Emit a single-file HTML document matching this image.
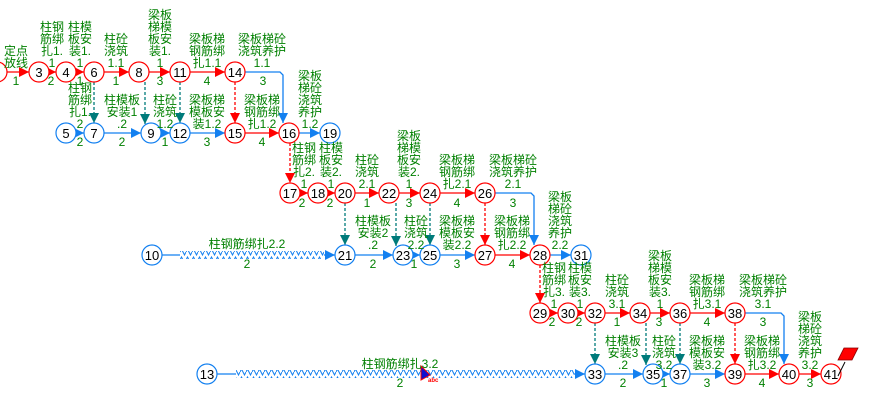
<!DOCTYPE html>
<html><head><meta charset="utf-8"><style>
html,body{margin:0;padding:0;background:#fff;}
svg{display:block;}
.n{font:13px "Liberation Sans",sans-serif;fill:#000;text-anchor:middle;}
.l{font:12px "Liberation Sans","Noto Sans CJK SC",sans-serif;fill:#008000;text-anchor:middle;}
</style></head><body>
<svg width="888" height="415" viewBox="0 0 888 415" xmlns="http://www.w3.org/2000/svg">
<defs>
<marker id="ar" markerWidth="10" markerHeight="10" refX="10" refY="5" orient="auto" markerUnits="userSpaceOnUse"><path d="M0,0 L10,5 L0,10z" fill="#f00"/></marker>
<marker id="ab" markerWidth="10" markerHeight="10" refX="10" refY="5" orient="auto" markerUnits="userSpaceOnUse"><path d="M0,0 L10,5 L0,10z" fill="#1380f0"/></marker>
<marker id="at" markerWidth="10" markerHeight="10" refX="10" refY="5" orient="auto" markerUnits="userSpaceOnUse"><path d="M0,0 L10,5 L0,10z" fill="#007b7b"/></marker>
<pattern id="zz" x="0" y="0" width="6" height="8" patternUnits="userSpaceOnUse"><path d="M0,4 L1.5,1 L4.5,7 L6,4" fill="none" stroke="#1380f0" stroke-width="1"/></pattern>
</defs>
<g fill="none" stroke-width="1.3">
<g stroke="#f00" marker-end="url(#ar)">
<line x1="7" y1="72" x2="29" y2="72"/><line x1="49" y1="72" x2="56" y2="72"/><line x1="76" y1="72" x2="84" y2="72"/>
<line x1="104" y1="72" x2="129" y2="72"/><line x1="149" y1="72" x2="170" y2="72"/><line x1="190" y1="72" x2="225" y2="72"/>
<line x1="245" y1="133" x2="279" y2="133"/>
<line x1="300" y1="193" x2="308" y2="193"/><line x1="328" y1="193" x2="335" y2="193"/><line x1="355" y1="193" x2="379" y2="193"/>
<line x1="399" y1="193" x2="420" y2="193"/><line x1="440" y1="193" x2="475" y2="193"/>
<line x1="495" y1="255" x2="530" y2="255"/>
<line x1="550" y1="313" x2="558" y2="313"/><line x1="578" y1="313" x2="585" y2="313"/><line x1="605" y1="313" x2="630" y2="313"/>
<line x1="650" y1="313" x2="670" y2="313"/><line x1="690" y1="313" x2="725" y2="313"/>
<line x1="745" y1="374" x2="779" y2="374"/><line x1="799" y1="374" x2="821" y2="374"/>
</g>
<g stroke="#f00" stroke-dasharray="3,2" marker-end="url(#ar)">
<line x1="235" y1="82" x2="235" y2="123"/><line x1="290" y1="143" x2="290" y2="183"/>
<line x1="485" y1="203" x2="485" y2="245"/><line x1="540" y1="265" x2="540" y2="303"/><line x1="735" y1="323" x2="735" y2="364"/>
</g>
<g stroke="#007b7b" stroke-dasharray="3,2" marker-end="url(#at)">
<line x1="94" y1="82" x2="94" y2="123"/><line x1="145" y1="82" x2="145" y2="124"/><line x1="180" y1="82" x2="180" y2="123"/>
<line x1="345" y1="203" x2="345" y2="245"/><line x1="396" y1="203" x2="396" y2="246"/><line x1="430" y1="203" x2="430" y2="245"/>
<line x1="595" y1="323" x2="595" y2="364"/><line x1="646" y1="323" x2="646" y2="365"/><line x1="680" y1="323" x2="680" y2="364"/>
</g>
<g stroke="#1380f0" marker-end="url(#ab)">
<line x1="76" y1="133" x2="84" y2="133"/><line x1="104" y1="133" x2="141" y2="133"/><line x1="161" y1="133" x2="170" y2="133"/>
<line x1="190" y1="133" x2="225" y2="133"/><line x1="299" y1="133" x2="320" y2="133"/>
<path d="M245,72 H280 l3,3 V123"/>
<path d="M495,193 H531 l3,3 V245"/>
<path d="M745,313 H781 l3,3 V364"/>
<line x1="355" y1="255" x2="393" y2="255"/><line x1="413" y1="255" x2="420" y2="255"/><line x1="440" y1="255" x2="475" y2="255"/>
<line x1="550" y1="255" x2="571" y2="255"/>
<line x1="605" y1="374" x2="643" y2="374"/><line x1="663" y1="374" x2="670" y2="374"/><line x1="690" y1="374" x2="725" y2="374"/>
<line x1="324" y1="255" x2="335" y2="255"/><line x1="574" y1="374" x2="585" y2="374"/>
</g>
<g stroke="#1380f0"><line x1="162" y1="255" x2="180" y2="255"/><line x1="217" y1="374" x2="236" y2="374"/></g>
</g>
<rect x="180" y="251" width="144" height="8" fill="url(#zz)"/>
<rect x="236" y="370" width="338" height="8" fill="url(#zz)"/>
<g stroke-width="1.2" fill="#fff">
<g stroke="#f00">
<circle cx="-3" cy="72" r="10"/><circle cx="39" cy="72" r="10"/><circle cx="66" cy="72" r="10"/><circle cx="94" cy="72" r="10"/>
<circle cx="139" cy="72" r="10"/><circle cx="180" cy="72" r="10"/><circle cx="235" cy="72" r="10"/>
<circle cx="235" cy="133" r="10"/><circle cx="289" cy="133" r="10"/>
<circle cx="290" cy="193" r="10"/><circle cx="318" cy="193" r="10"/><circle cx="345" cy="193" r="10"/><circle cx="389" cy="193" r="10"/>
<circle cx="430" cy="193" r="10"/><circle cx="485" cy="193" r="10"/>
<circle cx="485" cy="255" r="10"/><circle cx="540" cy="255" r="10"/>
<circle cx="540" cy="313" r="10"/><circle cx="568" cy="313" r="10"/><circle cx="595" cy="313" r="10"/><circle cx="640" cy="313" r="10"/>
<circle cx="680" cy="313" r="10"/><circle cx="735" cy="313" r="10"/>
<circle cx="735" cy="374" r="10"/><circle cx="789" cy="374" r="10"/><circle cx="831" cy="374" r="10"/>
</g>
<g stroke="#1380f0">
<circle cx="66" cy="133" r="10"/><circle cx="94" cy="133" r="10"/><circle cx="151" cy="133" r="10"/><circle cx="180" cy="133" r="10"/>
<circle cx="330" cy="133" r="10"/>
<circle cx="152" cy="255" r="10"/><circle cx="345" cy="255" r="10"/><circle cx="403" cy="255" r="10"/><circle cx="430" cy="255" r="10"/>
<circle cx="581" cy="255" r="10"/>
<circle cx="207" cy="374" r="10"/><circle cx="595" cy="374" r="10"/><circle cx="653" cy="374" r="10"/><circle cx="680" cy="374" r="10"/>
</g>
</g>
<g class="n">
<text x="39" y="77">3</text><text x="66" y="77">4</text><text x="94" y="77">6</text><text x="139" y="77">8</text><text x="180" y="77">11</text><text x="235" y="77">14</text>
<text x="66" y="138">5</text><text x="94" y="138">7</text><text x="151" y="138">9</text><text x="180" y="138">12</text><text x="235" y="138">15</text><text x="289" y="138">16</text><text x="330" y="138">19</text>
<text x="290" y="198">17</text><text x="318" y="198">18</text><text x="345" y="198">20</text><text x="389" y="198">22</text><text x="430" y="198">24</text><text x="485" y="198">26</text>
<text x="152" y="260">10</text><text x="345" y="260">21</text><text x="403" y="260">23</text><text x="430" y="260">25</text><text x="485" y="260">27</text><text x="540" y="260">28</text><text x="581" y="260">31</text>
<text x="540" y="318">29</text><text x="568" y="318">30</text><text x="595" y="318">32</text><text x="640" y="318">34</text><text x="680" y="318">36</text><text x="735" y="318">38</text>
<text x="207" y="379">13</text><text x="595" y="379">33</text><text x="653" y="379">35</text><text x="680" y="379">37</text><text x="735" y="379">39</text><text x="789" y="379">40</text><text x="831" y="379">41</text>
</g>
<polygon points="844,348 858,348 852,360 838,360" fill="#f00" stroke="#800" stroke-width="0.8"/>
<line x1="845" y1="362" x2="838" y2="376" stroke="#000" stroke-width="1"/>
<polygon points="421,366 421,380 430,375" fill="#1010d0" stroke="#f00" stroke-width="1"/>
<text x="428" y="382" style="font:bold 6px 'Liberation Sans',sans-serif;fill:#f00">abc</text>
<g class="l">
<text x="16" y="55">定点<tspan x="16" dy="12">放线</tspan></text>
<text x="52" y="31">柱钢<tspan x="52" dy="12">筋绑</tspan><tspan x="52" dy="12">扎1.</tspan><tspan x="52" dy="12">1</tspan></text>
<text x="80" y="31">柱模<tspan x="80" dy="12">板安</tspan><tspan x="80" dy="12">装1.</tspan><tspan x="80" dy="12">1</tspan></text>
<text x="116" y="43">柱砼<tspan x="116" dy="12">浇筑</tspan><tspan x="116" dy="12">1.1</tspan></text>
<text x="160" y="19">梁板<tspan x="160" dy="12">梯模</tspan><tspan x="160" dy="12">板安</tspan><tspan x="160" dy="12">装1.</tspan><tspan x="160" dy="12">1</tspan></text>
<text x="207" y="43">梁板梯<tspan x="207" dy="12">钢筋绑</tspan><tspan x="207" dy="12">扎1.1</tspan></text>
<text x="262" y="43">梁板梯砼<tspan x="262" dy="12">浇筑养护</tspan><tspan x="262" dy="12">1.1</tspan></text>
<text x="16" y="85">1</text><text x="51" y="85">2</text><text x="80" y="85">1</text><text x="116" y="85">1</text><text x="160" y="85">3</text><text x="207" y="85">4</text><text x="263" y="85">3</text>
<text x="80" y="92">柱钢<tspan x="80" dy="12">筋绑</tspan><tspan x="80" dy="12">扎1.</tspan><tspan x="80" dy="12">2</tspan></text>
<text x="122" y="104">柱模板<tspan x="122" dy="12">安装1</tspan><tspan x="122" dy="12">.2</tspan></text>
<text x="165" y="104">柱砼<tspan x="165" dy="12">浇筑</tspan><tspan x="165" dy="12">1.2</tspan></text>
<text x="207" y="104">梁板梯<tspan x="207" dy="12">模板安</tspan><tspan x="207" dy="12">装1.2</tspan></text>
<text x="262" y="104">梁板梯<tspan x="262" dy="12">钢筋绑</tspan><tspan x="262" dy="12">扎1.2</tspan></text>
<text x="310" y="80">梁板<tspan x="310" dy="12">梯砼</tspan><tspan x="310" dy="12">浇筑</tspan><tspan x="310" dy="12">养护</tspan><tspan x="310" dy="12">1.2</tspan></text>
<text x="80" y="146">2</text><text x="122" y="146">2</text><text x="165" y="146">1</text><text x="207" y="146">3</text><text x="262" y="146">4</text>
<text x="304" y="152">柱钢<tspan x="304" dy="12">筋绑</tspan><tspan x="304" dy="12">扎2.</tspan><tspan x="304" dy="12">1</tspan></text>
<text x="331" y="152">柱模<tspan x="331" dy="12">板安</tspan><tspan x="331" dy="12">装2.</tspan><tspan x="331" dy="12">1</tspan></text>
<text x="367" y="164">柱砼<tspan x="367" dy="12">浇筑</tspan><tspan x="367" dy="12">2.1</tspan></text>
<text x="409" y="140">梁板<tspan x="409" dy="12">梯模</tspan><tspan x="409" dy="12">板安</tspan><tspan x="409" dy="12">装2.</tspan><tspan x="409" dy="12">1</tspan></text>
<text x="457" y="164">梁板梯<tspan x="457" dy="12">钢筋绑</tspan><tspan x="457" dy="12">扎2.1</tspan></text>
<text x="513" y="164">梁板梯砼<tspan x="513" dy="12">浇筑养护</tspan><tspan x="513" dy="12">2.1</tspan></text>
<text x="302" y="207">2</text><text x="330" y="207">2</text><text x="367" y="207">1</text><text x="409" y="207">3</text><text x="457" y="207">4</text><text x="513" y="207">3</text>
<text x="247" y="248">柱钢筋绑扎2.2</text>
<text x="373" y="225">柱模板<tspan x="373" dy="12">安装2</tspan><tspan x="373" dy="12">.2</tspan></text>
<text x="416" y="225">柱砼<tspan x="416" dy="12">浇筑</tspan><tspan x="416" dy="12">2.2</tspan></text>
<text x="457" y="225">梁板梯<tspan x="457" dy="12">模板安</tspan><tspan x="457" dy="12">装2.2</tspan></text>
<text x="512" y="225">梁板梯<tspan x="512" dy="12">钢筋绑</tspan><tspan x="512" dy="12">扎2.2</tspan></text>
<text x="560" y="201">梁板<tspan x="560" dy="12">梯砼</tspan><tspan x="560" dy="12">浇筑</tspan><tspan x="560" dy="12">养护</tspan><tspan x="560" dy="12">2.2</tspan></text>
<text x="247" y="268">2</text><text x="373" y="268">2</text><text x="414" y="268">1</text><text x="457" y="268">3</text><text x="512" y="268">4</text>
<text x="554" y="272">柱钢<tspan x="554" dy="12">筋绑</tspan><tspan x="554" dy="12">扎3.</tspan><tspan x="554" dy="12">1</tspan></text>
<text x="580" y="272">柱模<tspan x="580" dy="12">板安</tspan><tspan x="580" dy="12">装3.</tspan><tspan x="580" dy="12">1</tspan></text>
<text x="617" y="284">柱砼<tspan x="617" dy="12">浇筑</tspan><tspan x="617" dy="12">3.1</tspan></text>
<text x="660" y="260">梁板<tspan x="660" dy="12">梯模</tspan><tspan x="660" dy="12">板安</tspan><tspan x="660" dy="12">装3.</tspan><tspan x="660" dy="12">1</tspan></text>
<text x="707" y="284">梁板梯<tspan x="707" dy="12">钢筋绑</tspan><tspan x="707" dy="12">扎3.1</tspan></text>
<text x="763" y="284">梁板梯砼<tspan x="763" dy="12">浇筑养护</tspan><tspan x="763" dy="12">3.1</tspan></text>
<text x="552" y="326">2</text><text x="579" y="326">2</text><text x="617" y="326">1</text><text x="659" y="326">3</text><text x="707" y="326">4</text><text x="763" y="326">3</text>
<text x="400" y="368">柱钢筋绑扎3.2</text>
<text x="623" y="345">柱模板<tspan x="623" dy="12">安装3</tspan><tspan x="623" dy="12">.2</tspan></text>
<text x="664" y="345">柱砼<tspan x="664" dy="12">浇筑</tspan><tspan x="664" dy="12">3.2</tspan></text>
<text x="707" y="345">梁板梯<tspan x="707" dy="12">模板安</tspan><tspan x="707" dy="12">装3.2</tspan></text>
<text x="762" y="345">梁板梯<tspan x="762" dy="12">钢筋绑</tspan><tspan x="762" dy="12">扎3.2</tspan></text>
<text x="810" y="321">梁板<tspan x="810" dy="12">梯砼</tspan><tspan x="810" dy="12">浇筑</tspan><tspan x="810" dy="12">养护</tspan><tspan x="810" dy="12">3.2</tspan></text>
<text x="400" y="387">2</text><text x="623" y="387">2</text><text x="664" y="387">1</text><text x="707" y="387">3</text><text x="762" y="387">4</text><text x="810" y="387">3</text>
</g>
</svg>
</body></html>
